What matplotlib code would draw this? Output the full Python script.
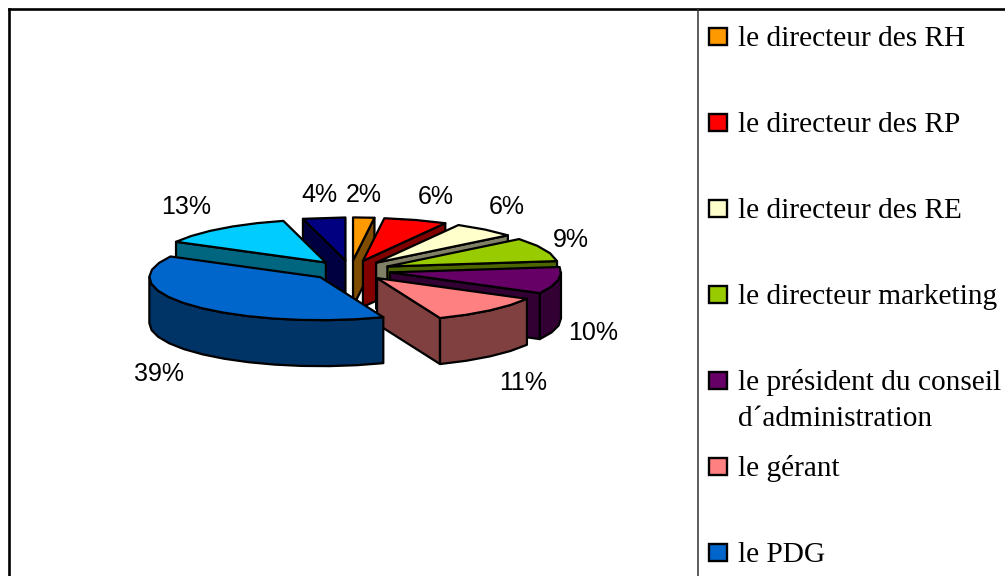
import numpy as np
import matplotlib
matplotlib.use("Agg")
import matplotlib.pyplot as plt
from matplotlib.patches import Polygon, Rectangle

categories = ["le directeur des RH", "le directeur des RP", "le directeur des RE",
              "le directeur marketing", "le président du conseil\nd´administration",
              "le gérant", "le PDG", "le directeur adjoint", "le comptable"]
shares = [2, 6, 6, 9, 10, 11, 39, 13, 4]
colors = ["#FF9900", "#FF0000", "#FFFFCC", "#99CC00", "#660066",
          "#FF8080", "#0066CC", "#00CCFF", "#000080"]
# only the first seven entries fit in the legend, the rest is cut off
legend_count = 7

# label centres in pixels
label_pos = [(364, 195), (436, 197), (507, 207), (571, 240), (593, 333),
             (523, 383), (159, 374), (186, 207), (319, 195)]

CX, CY = 350.5, 270.5
RX, RY = 171, 43
EXPLODE = 0.235
DEPTH = 46
LW = 1.6


def darker(col):
    return tuple(0.5 * c for c in matplotlib.colors.to_rgb(col))


def rim(t1, t2, dx, dy, step=9.0):
    n = max(int(abs(t2 - t1) / step), 1)
    t = np.radians(np.linspace(t1, t2, n + 1))
    return np.column_stack([dx + RX * np.sin(t), dy - RY * np.cos(t)])


fig = plt.figure(figsize=(10.05, 5.76), dpi=100)
ax = fig.add_axes([0, 0, 1, 1])
ax.set_xlim(0, 1005)
ax.set_ylim(576, 0)
ax.axis("off")

# frame and separator
ax.plot([8.5, 8.5], [576, 8.5], color="black", lw=1.9, solid_capstyle="projecting")
ax.plot([8.5, 1005], [8.5, 8.5], color="black", lw=1.9)
ax.plot([697.5, 697.5], [8.5, 576], color="#333333", lw=1.1)

# slice angles, clockwise from twelve o'clock
edges = np.cumsum([0] + shares) / sum(shares) * 360
order = [8, 7, 0, 1, 2, 3, 4, 5, 6]  # back to front

for i in order:
    t1, t2 = edges[i], edges[i + 1]
    mid = np.radians((t1 + t2) / 2)
    ax0 = CX + EXPLODE * RX * np.sin(mid)
    ay0 = CY - EXPLODE * RY * np.cos(mid)
    side = darker(colors[i])
    arc = rim(t1, t2, ax0, ay0)
    down = np.array([0, DEPTH])
    apex = np.array([ax0, ay0])

    # flat cut faces looking to the viewer
    if 180 < t1 < 360:
        p = arc[0]
        ax.add_patch(Polygon([apex, p, p + down, apex + down], fc=side, ec="black", lw=LW, joinstyle="round"))
    if 0 < t2 < 180:
        p = arc[-1]
        ax.add_patch(Polygon([apex, p, p + down, apex + down], fc=side, ec="black", lw=LW, joinstyle="round"))

    # outer wall, front half of the rim only
    w1, w2 = max(t1, 90), min(t2, 270)
    if w2 > w1:
        wall = rim(w1, w2, ax0, ay0)
        ax.add_patch(Polygon(np.vstack([wall, (wall + down)[::-1]]), fc=side, ec="black", lw=LW, joinstyle="round"))

    # top
    ax.add_patch(Polygon(np.vstack([apex, arc]), fc=colors[i], ec="black", lw=LW, joinstyle="round"))

    ax.text(label_pos[i][0], label_pos[i][1], f"{shares[i]}%", ha="center", va="center",
            fontsize=18, family="Liberation Sans", color="black")

# legend
for k in range(legend_count):
    yc = 36 + 86 * k
    ax.add_patch(Rectangle((709, yc - 8.5), 18, 17, fc=colors[k], ec="black", lw=1.7))
    lines = categories[k].split("\n")
    for j, line in enumerate(lines):
        ax.text(738, yc + 2.5 + 37 * j, line, va="center", ha="left", fontsize=21.2, family="Liberation Serif")

fig.savefig("out.png", dpi=100, facecolor="white")
